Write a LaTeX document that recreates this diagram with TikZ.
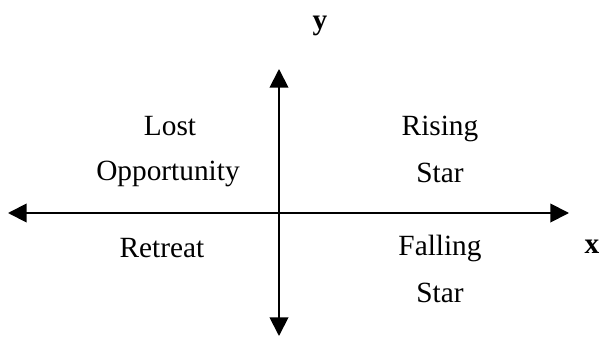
\documentclass[tikz,border=0pt]{standalone}
\usepackage{fontspec}
\setmainfont{Liberation Serif}
\usetikzlibrary{arrows.meta, positioning}

\begin{document}
\begin{tikzpicture}[
  x=0.75pt, y=-0.75pt,
  axis/.style={-{Triangle[length=14pt, width=14pt]}, line width=1.4pt},
  lbl/.style={anchor=base, inner sep=0pt, font=\fontsize{22}{26}\selectfont},
  axlbl/.style={anchor=base, inner sep=0pt, font=\fontsize{22}{26}\selectfont\bfseries}
]
\useasboundingbox (0,0) rectangle (609,342);

\coordinate (o) at (279,213);
\coordinate (west) at (8,213);
\coordinate (east) at (569,213);
\coordinate (north) at (279,69);
\coordinate (south) at (279,336);

\draw[axis] (o) -- (west);
\draw[axis] (o) -- (east);
\draw[axis] (o) -- (north);
\draw[axis] (o) -- (south);

\node[axlbl] (ylbl) at (320,30) {y};
\node[axlbl] (xlbl) at (592,253) {x};

\node[lbl] (lost) at (170,135) {Lost};
\node[lbl] (opp) at (168,180) {Opportunity};
\node[lbl] (rising) at (440,135) {Rising};
\node[lbl] (star1) at (440,182) {Star};
\node[lbl] (falling) at (440,255) {Falling};
\node[lbl] (star2) at (440,302) {Star};
\node[lbl] (retreat) at (162,257) {Retreat};
\end{tikzpicture}
\end{document}
